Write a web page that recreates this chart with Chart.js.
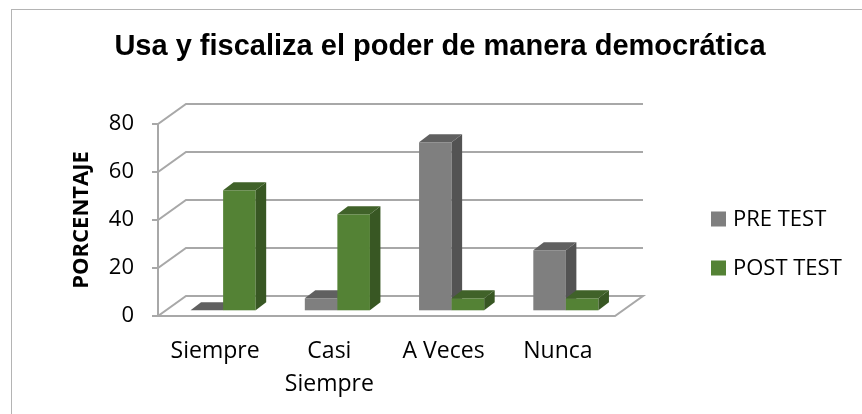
<!DOCTYPE html>
<html>
<head>
<meta charset="utf-8">
<script src="https://cdn.jsdelivr.net/npm/chart.js@4.4.1/dist/chart.umd.min.js"></script>
<style>
  html,body{margin:0;padding:0;background:#fff}
  #wrap{width:862px;height:414px}
</style>
</head>
<body>
<div id="wrap"><canvas id="chart" width="862" height="414"></canvas></div>
<script>
'use strict';
const chartTitle='Usa y fiscaliza el poder de manera democrática';
const categories=['Siempre',['Casi','Siempre'],'A Veces','Nunca'];
const preTest=[0,5,70,25];
const postTest=[50,40,5,5];
const seriesNames=['PRE TEST','POST TEST'];
const yTicks=[0,20,40,60,80];

// colours for front / side / top faces
const faces=[
  {front:'#7f7f7f',side:'#535353',top:'#606060'},
  {front:'#548235',side:'#385723',top:'#406229'}
];
const BACK={x:28,y:-20};   // depth of the floor / back wall
const NEAR={x:8,y:-5.7};   // bar front plane
const DEEP={x:10.5,y:-8};  // bar thickness
const GRID='#a8a8a8';

const pseudo3d={
  id:'pseudo3d',
  beforeDraw(chart){
    const ctx=chart.ctx;
    ctx.save();
    ctx.fillStyle='#fff';
    ctx.fillRect(0,0,chart.width,chart.height);
    ctx.strokeStyle='#b4b4b4';
    ctx.lineWidth=1;
    ctx.strokeRect(11.5,9.5,chart.width+20,chart.height+20);
    // title
    ctx.fillStyle='#000';
    ctx.font='bold 29px "Liberation Sans", Arial, sans-serif';
    ctx.textAlign='center';
    ctx.textBaseline='middle';
    ctx.fillText(chartTitle,440,47);
    ctx.restore();
  },
  beforeDatasetsDraw(chart){
    const {ctx,chartArea:a,scales:{y}}=chart;
    ctx.save();
    ctx.strokeStyle=GRID;
    ctx.lineWidth=2;
    yTicks.forEach(v=>{
      const py=y.getPixelForValue(v);
      ctx.beginPath();
      ctx.moveTo(a.left-6,py);
      ctx.lineTo(a.left,py);
      ctx.lineTo(a.left+BACK.x,py+BACK.y);
      ctx.lineTo(a.right+BACK.x,py+BACK.y);
      if(v===0){
        ctx.lineTo(a.right,py);
        ctx.lineTo(a.left,py);
      }
      ctx.stroke();
    });
    ctx.beginPath();
    ctx.moveTo(a.left,y.getPixelForValue(yTicks[yTicks.length-1]));
    ctx.lineTo(a.left,y.getPixelForValue(0));
    ctx.stroke();
    ctx.restore();
  },
  beforeDatasetDraw(){ return false; },
  afterDatasetsDraw(chart){
    const ctx=chart.ctx;
    const metas=chart.data.datasets.map((d,i)=>chart.getDatasetMeta(i));
    ctx.save();
    categories.forEach((c,i)=>{
      metas.forEach((meta,d)=>{
        const p=meta.data[i].getProps(['x','y','base','width'],true);
        const l=p.x-p.width/2+NEAR.x, r=p.x+p.width/2+NEAR.x;
        const t=p.y+NEAR.y, b=p.base+NEAR.y;
        const f=faces[d];
        ctx.fillStyle=f.front;
        ctx.fillRect(l,t,r-l,b-t);
        ctx.fillStyle=f.side;
        ctx.beginPath();
        ctx.moveTo(r,t);ctx.lineTo(r+DEEP.x,t+DEEP.y);ctx.lineTo(r+DEEP.x,b+DEEP.y);ctx.lineTo(r,b);
        ctx.closePath();ctx.fill();
        ctx.fillStyle=f.top;
        ctx.beginPath();
        ctx.moveTo(l,t);ctx.lineTo(l+DEEP.x,t+DEEP.y);ctx.lineTo(r+DEEP.x,t+DEEP.y);ctx.lineTo(r,t);
        ctx.closePath();ctx.fill();
      });
    });
    // legend
    ctx.font='22px "Open Sans", sans-serif';
    ctx.textAlign='left';
    ctx.textBaseline='middle';
    seriesNames.forEach((n,i)=>{
      const cy=219+i*49;
      ctx.fillStyle=faces[i].front;
      ctx.fillRect(711,cy-7.5,15,15);
      ctx.fillStyle='#000';
      ctx.fillText(n,733,cy+1);
    });
    ctx.restore();
  }
};

new Chart(document.getElementById('chart'),{
  type:'bar',
  data:{
    labels:categories,
    datasets:[
      {label:seriesNames[0],data:preTest,backgroundColor:faces[0].front},
      {label:seriesNames[1],data:postTest,backgroundColor:faces[1].front}
    ]
  },
  options:{
    responsive:false,
    animation:false,
    layout:{padding:{left:0,top:124,right:247,bottom:0}},
    datasets:{bar:{categoryPercentage:0.57,barPercentage:1}},
    plugins:{legend:{display:false},title:{display:false},tooltip:{enabled:false}},
    scales:{
      x:{
        grid:{display:false,drawTicks:false},
        border:{display:false},
        ticks:{color:'#000',padding:18.5,font:{family:'Open Sans',size:23,lineHeight:1.435},maxRotation:0,autoSkip:false},
        afterFit(s){ s.height=98; }
      },
      y:{
        min:0,max:80,
        grid:{display:false,drawTicks:false},
        border:{display:false},
        ticks:{stepSize:20,color:'#000',padding:24,font:{family:'Open Sans',size:22}},
        title:{display:true,text:'PORCENTAJE',color:'#000',font:{family:'Open Sans',size:22,weight:'bold'},padding:{top:69,bottom:0}},
        afterFit(s){ s.width=158; }
      }
    }
  },
  plugins:[pseudo3d]
});
</script>
</body>
</html>
